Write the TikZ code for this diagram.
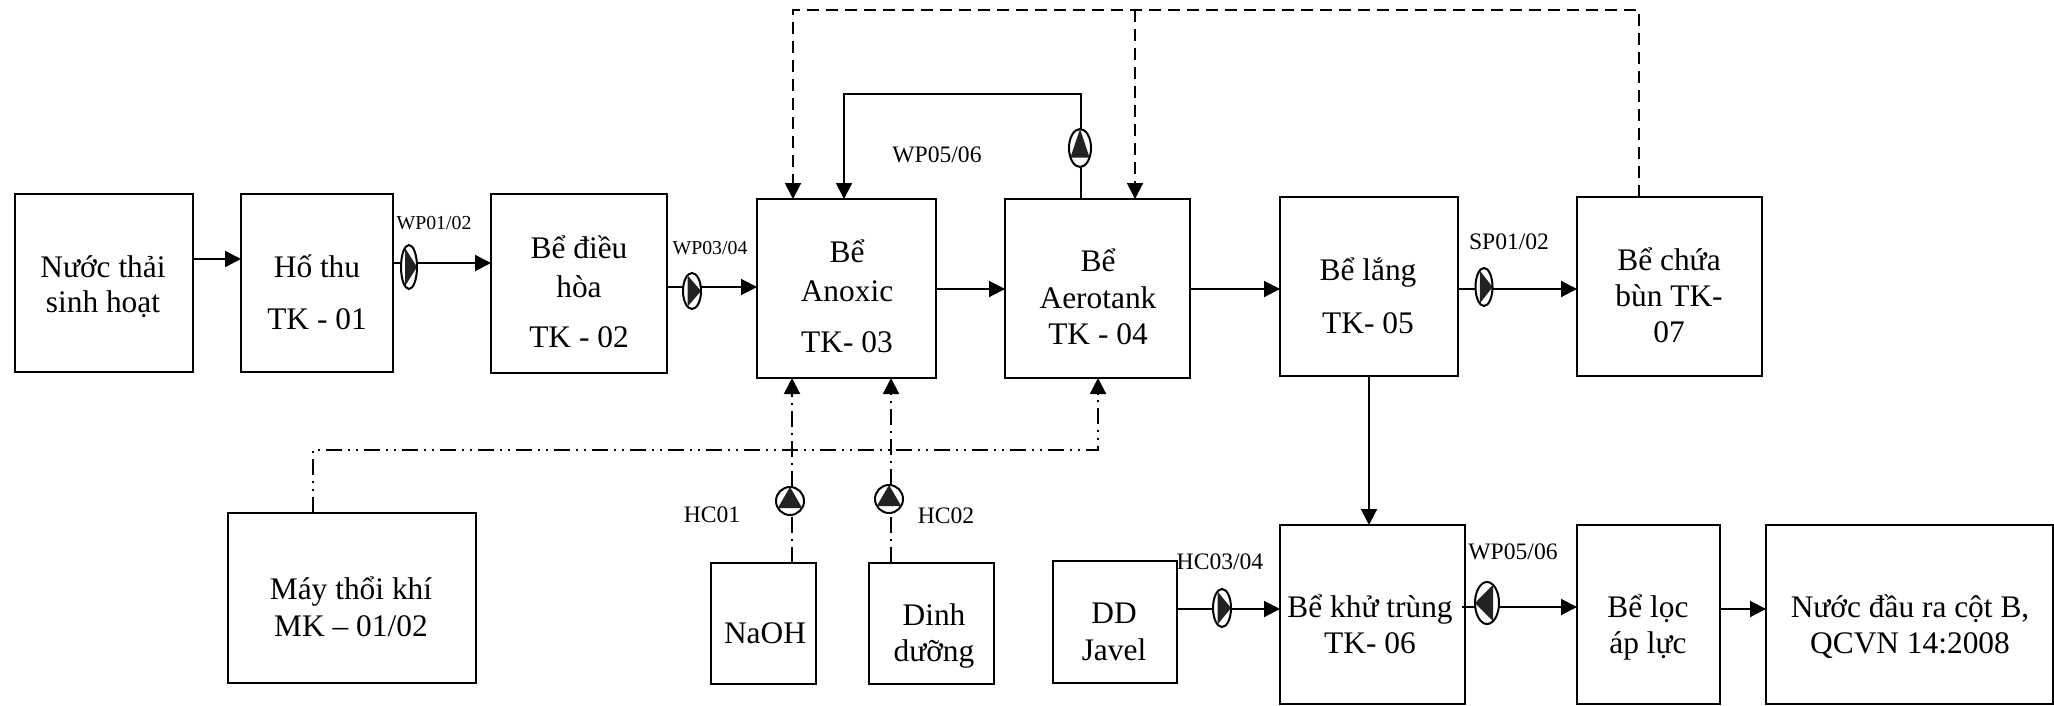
\documentclass[tikz,border=0pt]{standalone}
\usepackage{fontspec}
\setmainfont{Liberation Serif}
\usetikzlibrary{arrows.meta,shapes.geometric}
\definecolor{ink}{HTML}{000000}
\definecolor{pumpfill}{HTML}{222222}
\tikzset{
  px/.style={x=0.5pt,y=-0.5pt},
  tank/.style={draw=ink,line width=1pt,inner sep=0pt,outer sep=0pt,fill=white},
  body/.style={align=center,inner sep=0pt,font=\fontsize{15.7}{18}\selectfont},
  tag/.style={inner sep=0pt,font=\fontsize{11.8}{14}\selectfont},
  smalltag/.style={inner sep=0pt,font=\fontsize{9.9}{12}\selectfont},
  pumpshape/.style={draw=ink,ellipse,line width=1pt,fill=white,inner sep=0pt,outer sep=0pt},
  flow/.style={draw=ink,line width=1pt},
  arrowed/.style={-{Triangle[length=8pt,width=8pt]}},
  dashline/.style={flow,dash pattern=on 6pt off 3.5pt},
  chemline/.style={flow,dash pattern=on 8pt off 3pt on 1pt off 3pt},
  airline/.style={flow,dash pattern=on 8pt off 3pt on 1pt off 3pt on 1pt off 3pt},
}
\newcommand{\tankbox}[8]{%
  \node[tank,minimum width={(#4-#2)*0.5pt},minimum height={(#5-#3)*0.5pt}] (#1) at ({(#2+#4)/2},{(#3+#5)/2}) {};
  \node[body] (#1t) at (#6,#7) {\strut #8\strut};
}
\newcommand{\pumpbase}[5]{%
  \node[pumpshape,minimum width={#4*1pt},minimum height={#5*1pt}] (#1) at (#2,#3) {};
}
\newcommand{\pumpR}[5]{\pumpbase{#1}{#2}{#3}{#4}{#5}
  \fill[pumpfill] ({#2+#4},#3) -- ({#2-0.5*#4},{#3-0.87*#5}) -- ({#2-0.5*#4},{#3+0.87*#5}) -- cycle;}
\newcommand{\pumpL}[5]{\pumpbase{#1}{#2}{#3}{#4}{#5}
  \fill[pumpfill] ({#2-#4},#3) -- ({#2+0.5*#4},{#3-0.87*#5}) -- ({#2+0.5*#4},{#3+0.87*#5}) -- cycle;}
\newcommand{\pumpU}[5]{\pumpbase{#1}{#2}{#3}{#4}{#5}
  \fill[pumpfill] (#2,{#3-#5}) -- ({#2-0.87*#4},{#3+0.5*#5}) -- ({#2+0.87*#4},{#3+0.5*#5}) -- cycle;}
\begin{document}
\begin{tikzpicture}[px]
\useasboundingbox (0,0) rectangle (2054,706);
% tanks
\tankbox{nuoc}{15}{194}{193}{372}{103}{287.3}{Nước thải\\[-0.5pt]sinh hoạt}
\tankbox{hothu}{241}{194}{393}{372}{317}{295.8}{Hố thu\\[8pt]TK - 01}
\tankbox{dieuhoa}{491}{194}{667}{373}{579}{295.3}{Bể điều\\[1.5pt]hòa\\[7pt]TK - 02}
\tankbox{anoxic}{757}{199}{936}{378}{847}{299.8}{Bể\\[1.5pt]Anoxic\\[7.5pt]TK- 03}
\tankbox{aero}{1005}{199}{1190}{378}{1098}{300.3}{Bể\\[0.5pt]Aerotank\\TK - 04}
\tankbox{lang}{1280}{197}{1458}{376}{1368}{299.3}{Bể lắng\\[8.5pt]TK- 05}
\tankbox{bun}{1577}{197}{1762}{376}{1669}{298.8}{Bể chứa\\bùn TK-\\07}
\tankbox{may}{228}{513}{476}{683}{351}{610.3}{Máy thổi khí\\[0.5pt]MK – 01/02}
\tankbox{naoh}{711}{563}{816}{684}{765}{635.8}{NaOH}
\tankbox{dinh}{869}{563}{994}{684}{934}{635.8}{Dinh\\dưỡng}
\tankbox{javel}{1053}{561}{1177}{683}{1114}{634.3}{DD\\[0.5pt]Javel}
\tankbox{khu}{1280}{525}{1465}{704}{1370}{627.8}{Bể khử trùng\\TK- 06}
\tankbox{loc}{1577}{525}{1720}{704}{1648}{627.8}{Bể lọc\\áp lực}
\tankbox{ra}{1766}{525}{2053}{704}{1910}{627.8}{Nước đầu ra cột B,\\QCVN 14:2008}
% pumps
\pumpR{wp01}{409}{267}{8}{22}
\pumpR{wp03}{692}{291}{9}{18}
\pumpR{sp01}{1484}{287}{8.5}{19}
\pumpU{wpup}{1080}{148}{11}{19}
\pumpU{hc01}{790}{501}{14}{14}
\pumpU{hc02}{889}{499}{14}{14}
\pumpR{hc03}{1222}{608}{9}{19}
\pumpL{wp05}{1487}{603}{12}{21}
% solid connectors
\draw[flow,arrowed] (nuoc.east |- 0,259) -- (hothu.west |- 0,259);
\draw[flow] (hothu.east |- 0,263) -- (wp01.west |- 0,263);
\draw[flow,arrowed] (wp01.east |- 0,263) -- (dieuhoa.west |- 0,263);
\draw[flow] (dieuhoa.east |- 0,287) -- (wp03.west |- 0,287);
\draw[flow,arrowed] (wp03.east |- 0,287) -- (anoxic.west |- 0,287);
\draw[flow,arrowed] (anoxic.east |- 0,289) -- (aero.west |- 0,289);
\draw[flow,arrowed] (aero.east |- 0,289) -- (lang.west |- 0,289);
\draw[flow] (lang.east |- 0,289) -- (sp01.west |- 0,289);
\draw[flow,arrowed] (sp01.east |- 0,289) -- (bun.west |- 0,289);
\draw[flow,arrowed] (lang.south) -- (khu.north -| lang.south);
\draw[flow] (javel.east |- 0,609) -- (hc03.west |- 0,609);
\draw[flow,arrowed] (hc03.east |- 0,609) -- (khu.west |- 0,609);
\draw[flow] (khu.east |- 0,607) ++(-3,0) -- (wp05.west |- 0,607);
\draw[flow,arrowed] (wp05.east |- 0,607) -- (loc.west |- 0,607);
\draw[flow,arrowed] (loc.east |- 0,609) -- (ra.west |- 0,609);
\coordinate (retA) at (1081,94);
\coordinate (retB) at (844,94);
\draw[flow] (retA |- aero.north) -- (retA |- wpup.south);
\draw[flow,arrowed] (retA |- wpup.north) -- (retA) -- (retB) -- (retB |- anoxic.north);
% dashed return
\coordinate (tr) at (1639,10);
\coordinate (tl) at (793,10);
\coordinate (tm) at (1135,10);
\draw[dashline,arrowed] (tr |- bun.north) -- (tr) -- (tl) -- (tl |- anoxic.north);
\draw[dashline,arrowed] (tm) -- (tm |- aero.north);
% air
\coordinate (a1) at (313,450);
\coordinate (a2) at (1098,450);
\draw[airline,arrowed] (a1 |- may.north) -- (a1) -- (a2) -- (a2 |- aero.south);
% chemicals
\coordinate (c1) at (792,450);
\coordinate (c2) at (891,450);
\draw[chemline] (c1 |- naoh.north) -- (c1 |- hc01.south);
\draw[chemline,arrowed] (c1 |- hc01.north) -- (c1 |- anoxic.south);
\draw[chemline] (c2 |- dinh.north) -- (c2 |- hc02.south);
\draw[chemline,arrowed] (c2 |- hc02.north) -- (c2 |- anoxic.south);
% labels
\node[smalltag] (l1) at (434,223) {WP01/02};
\node[smalltag] (l2) at (710,248) {WP03/04};
\node[tag] (l3) at (937,155) {WP05/06};
\node[tag] (l4) at (1509,242) {SP01/02};
\node[tag] (l5) at (712,515) {HC01};
\node[tag] (l6) at (946,516) {HC02};
\node[tag] (l7) at (1220,562) {HC03/04};
\node[tag] (l8) at (1513,552) {WP05/06};
\end{tikzpicture}
\end{document}
